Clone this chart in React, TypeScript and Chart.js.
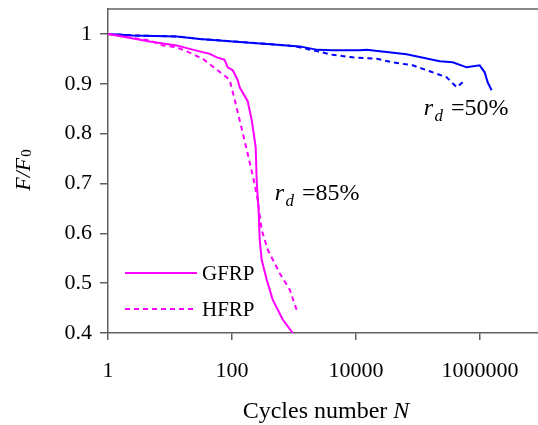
import React, { useEffect, useRef } from "react";
import { Chart, registerables } from "chart.js";

Chart.register(...registerables);

// ---- data ----
const gfrp85N = [1, 4.7, 8.8, 12.8, 20.8, 30, 44, 57, 76, 85, 103, 124, 133, 179, 208, 241, 250, 270, 280, 301, 363, 453, 658, 953];
const gfrp85F = [1, 0.985, 0.98, 0.977, 0.97, 0.965, 0.96, 0.953, 0.948, 0.933, 0.927, 0.907, 0.893, 0.865, 0.827, 0.773, 0.707, 0.64, 0.587, 0.547, 0.507, 0.467, 0.427, 0.4];

const hfrp85N = [1, 3.2, 4.7, 7.6, 12.8, 18.6, 30, 34, 82, 92, 111, 133, 179, 224, 260, 301, 377, 588, 853, 1148];
const hfrp85F = [1, 0.99, 0.987, 0.977, 0.973, 0.965, 0.953, 0.95, 0.913, 0.907, 0.867, 0.827, 0.76, 0.707, 0.667, 0.607, 0.567, 0.52, 0.487, 0.44];

const gfrp50N = [1, 2.5, 12.8, 30, 103, 363, 762, 1236, 2404, 4200, 11460, 14830, 65500, 224000, 363000, 609000, 988000, 1190000, 1330000, 1540000];
const gfrp50F = [1, 0.997, 0.995, 0.99, 0.985, 0.98, 0.977, 0.975, 0.968, 0.967, 0.967, 0.968, 0.959, 0.945, 0.943, 0.933, 0.937, 0.923, 0.903, 0.887];

const hfrp50N = [1, 2.5, 12.8, 30, 103, 363, 762, 1236, 2404, 4200, 8900, 21600, 39000, 82000, 155000, 290000, 421000, 526000];
const hfrp50F = [1, 0.997, 0.995, 0.99, 0.985, 0.98, 0.977, 0.973, 0.965, 0.958, 0.953, 0.95, 0.943, 0.937, 0.925, 0.913, 0.893, 0.903];

const xTickValues = [1, 100, 10000, 1000000];
const yTickValues = [0.4, 0.5, 0.6, 0.7, 0.8, 0.9, 1];
const legendLabels = ["GFRP", "HFRP"];
const annotations = [
  { sub: "d", text: "=85%", n: 488, f: 0.667 },
  { sub: "d", text: "=50%", n: 123600, f: 0.838 },
];

const MAGENTA = "#ff00ff";
const BLUE = "#0000ff";
const AXIS = "#606060";
const FONT = "'Liberation Serif', 'Times New Roman', Times, serif";

const toPts = (ns: number[], fs: number[]) => ns.map((n, i) => ({ x: n, y: fs[i] }));

type Run = { t: string; font: string; dy?: number };
function drawRuns(ctx: CanvasRenderingContext2D, runs: Run[], x: number, y: number, align: "left" | "center") {
  let total = 0;
  for (const r of runs) {
    ctx.font = r.font;
    total += ctx.measureText(r.t).width;
  }
  let cx = align === "center" ? x - total / 2 : x;
  ctx.textAlign = "left";
  ctx.textBaseline = "alphabetic";
  for (const r of runs) {
    ctx.font = r.font;
    ctx.fillText(r.t, cx, y + (r.dy || 0));
    cx += ctx.measureText(r.t).width;
  }
}

const extras = {
  id: "extras",
  afterDraw(chart: any) {
    const { ctx, chartArea, scales } = chart;
    const xs = scales.x;
    const ys = scales.y;
    ctx.save();
    // top border
    ctx.strokeStyle = AXIS;
    ctx.lineWidth = 1.5;
    ctx.beginPath();
    ctx.moveTo(chartArea.left, chartArea.top);
    ctx.lineTo(chartArea.right, chartArea.top);
    ctx.stroke();

    // legend (inside plot)
    const ds = chart.data.datasets;
    const legendY = [273, 309];
    legendLabels.forEach((lab, i) => {
      const d = ds[i];
      ctx.strokeStyle = d.borderColor;
      ctx.lineWidth = 2;
      ctx.setLineDash(d.borderDash || []);
      ctx.beginPath();
      ctx.moveTo(125, legendY[i]);
      ctx.lineTo(197, legendY[i]);
      ctx.stroke();
      ctx.setLineDash([]);
      ctx.fillStyle = "#000";
      drawRuns(ctx, [{ t: lab, font: `21px ${FONT}` }], 202, legendY[i] + 7, "left");
    });

    // annotations
    ctx.fillStyle = "#000";
    annotations.forEach((a) => {
      const px = xs.getPixelForValue(a.n);
      const py = ys.getPixelForValue(a.f);
      drawRuns(
        ctx,
        [
          { t: "r", font: `italic 24px ${FONT}` },
          { t: " ", font: `6px ${FONT}` },
          { t: a.sub, font: `italic 17px ${FONT}`, dy: 6 },
          { t: " ", font: `32px ${FONT}` },
          { t: a.text, font: `24px ${FONT}` },
        ],
        px,
        py,
        "left"
      );
    });

    // x title
    drawRuns(
      ctx,
      [
        { t: "Cycles number ", font: `24px ${FONT}` },
        { t: "N", font: `italic 24px ${FONT}` },
      ],
      326,
      418,
      "center"
    );

    // y title
    ctx.translate(30, 170);
    ctx.rotate(-Math.PI / 2);
    drawRuns(
      ctx,
      [
        { t: "F/F", font: `italic 22px ${FONT}` },
        { t: " ", font: `4px ${FONT}` },
        { t: "0", font: `15px ${FONT}`, dy: 1 },
      ],
      0,
      0,
      "center"
    );
    ctx.restore();
  },
};

export default function App() {
  const ref = useRef<HTMLCanvasElement | null>(null);
  useEffect(() => {
    if (!ref.current) return;
    const chart = new Chart(ref.current, {
      type: "line",
      data: {
        datasets: [
          { label: "GFRP 85%", data: toPts(gfrp85N, gfrp85F), borderColor: MAGENTA, borderWidth: 2 },
          { label: "HFRP 85%", data: toPts(hfrp85N, hfrp85F), borderColor: MAGENTA, borderWidth: 2, borderDash: [5, 4] },
          { label: "GFRP 50%", data: toPts(gfrp50N, gfrp50F), borderColor: BLUE, borderWidth: 2 },
          { label: "HFRP 50%", data: toPts(hfrp50N, hfrp50F), borderColor: BLUE, borderWidth: 2, borderDash: [5, 4] },
        ] as any,
      },
      options: {
        animation: false,
        responsive: false,
        devicePixelRatio: 1,
        elements: { point: { radius: 0 }, line: { tension: 0 } },
        layout: { padding: { left: 0, top: 9, right: 8, bottom: 0 } },
        plugins: { legend: { display: false }, tooltip: { enabled: false } },
        scales: {
          x: {
            type: "logarithmic",
            min: 1,
            max: 10000000,
            afterBuildTicks: (s: any) => {
              s.ticks = xTickValues.map((v) => ({ value: v, major: true }));
            },
            afterFit: (s: any) => {
              s.height = 92;
              s.paddingLeft = 0;
              s.paddingRight = 0;
            },
            ticks: {
              autoSkip: false,
              maxRotation: 0,
              padding: 18,
              color: "#000",
              font: { family: FONT, size: 22 },
              callback: (v: any) => String(v),
            },
            grid: { drawOnChartArea: false, tickLength: 7, color: AXIS, lineWidth: 1.5 },
            border: { color: AXIS, width: 1.5 },
          },
          y: {
            min: 0.4,
            max: 1.05,
            afterBuildTicks: (s: any) => {
              s.ticks = yTickValues.map((v) => ({ value: v }));
            },
            afterFit: (s: any) => {
              s.width = 108;
              s.paddingTop = 0;
              s.paddingBottom = 0;
            },
            ticks: {
              padding: 8,
              color: "#000",
              font: { family: FONT, size: 22 },
              callback: (v: any) => (Math.abs(v - 1) < 1e-6 ? "1" : Number(v).toFixed(1)),
            },
            grid: { drawOnChartArea: false, tickLength: 8, color: AXIS, lineWidth: 1.5 },
            border: { color: AXIS, width: 1.5 },
          },
        },
      },
      plugins: [extras],
    } as any);
    return () => chart.destroy();
  }, []);
  return (
    <div style={{ position: "fixed", left: 0, top: 0, width: 538, height: 425, overflow: "hidden", background: "#fff" }}>
      <canvas ref={ref} width={550} height={425} style={{ display: "block" }} />
    </div>
  );
}
